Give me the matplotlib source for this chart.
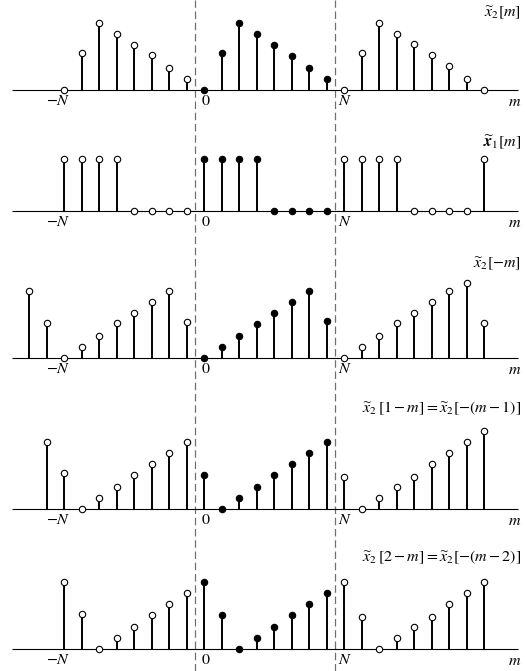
import matplotlib
matplotlib.use("Agg")
import matplotlib.pyplot as plt
from matplotlib.lines import Line2D
from matplotlib.transforms import blended_transform_factory
import numpy as np

plt.rcParams['mathtext.fontset'] = 'stix'
plt.rcParams['font.family'] = ['Liberation Serif', 'DejaVu Serif']

# ---- data, N = 8 ----
N = 8
m1 = list(range(-8, 17))
x2_m = [0, 3.3, 6, 5, 4, 3.1, 2, 1,
        0, 3.3, 6, 5, 4, 3, 2, 1,
        0, 3.3, 6, 5, 4.1, 3.1, 2.1, 1, 0]

m2 = list(range(-8, 17))
x1_m = [4.6, 4.6, 4.6, 4.6, 0, 0, 0, 0,
        4.6, 4.6, 4.6, 4.6, 0, 0, 0, 0,
        4.6, 4.6, 4.6, 4.6, 0, 0, 0, 0, 4.6]

m3 = list(range(-10, 17))
x2_neg_m = [6, 3.1, 0, 1, 2, 3.1, 4, 5, 6, 3.2,
            0, 1, 2, 3, 4, 5, 6, 3.3,
            0, 1, 2, 3.1, 4, 5, 6, 6.7, 3.1]

m4 = list(range(-9, 17))
x2_1_m = [6, 3.2, 0, 1, 2, 3, 4, 5, 6,
          3, 0, 1, 2, 3, 4, 5, 6,
          2.9, 0, 1, 2, 2.9, 4, 5, 6, 7]

m5 = list(range(-8, 17))
x2_2_m = [6, 3.1, 0, 1, 2, 3, 4, 5,
          6, 3, 0, 1, 2, 3, 4, 5,
          6, 2.9, 0, 1, 2, 2.9, 4, 5, 6]

labels = [r'$\widetilde{x}_2[m]$',
          r'$\widetilde{\mathbfit{x}}_1[m]$',
          r'$\widetilde{x}_2[-m]$',
          r'$\widetilde{x}_2\,[1-m] = \widetilde{x}_2[-(m-1)]$',
          r'$\widetilde{x}_2\,[2-m] = \widetilde{x}_2[-(m-2)]$']

panels = [(m1, x2_m), (m2, x1_m), (m3, x2_neg_m), (m4, x2_1_m), (m5, x2_2_m)]

# ---- layout (pixels) ----
W, H = 525, 671
fig = plt.figure(figsize=(W / 100, H / 100), dpi=100)
unit = 11.2          # px per value unit
step = 17.5          # px per sample
x0px = 204           # pixel of m = 0
baselines = [90, 211, 358, 509, 649]
label_y = [13, 143, 264, 408, 557]
ylo, yhi = -2.0, 9.8

xmin = -x0px / step
xmax = (W - x0px) / step

axes = []
for (m, v), base, lab, ly in zip(panels, baselines, labels, label_y):
    bottom_px = base + (-ylo) * unit
    h_px = (yhi - ylo) * unit
    ax = fig.add_axes([0, 1 - bottom_px / H, 1, h_px / H])
    ax.set_xlim(xmin, xmax)
    ax.set_ylim(ylo, yhi)
    ax.axis('off')
    ax.patch.set_alpha(0)
    m = np.array(m)
    v = np.array(v, dtype=float)
    ax.vlines(m, 0, v, colors='black', lw=1.4, zorder=2, clip_on=False)
    ax.hlines(0, -11, 17.95, colors='black', lw=0.8, zorder=1)
    inside = (m >= 0) & (m <= N - 1)
    ax.plot(m[~inside], v[~inside], 'o', ms=4.6, mfc='white', mec='black',
            mew=0.8, zorder=3, clip_on=False)
    ax.plot(m[inside], v[inside], 'o', ms=4.6, mfc='black', mec='black',
            mew=0.8, zorder=3, clip_on=False)
    fs = 11.5
    ax.text(-7.65, -0.3, r'$-N$', ha='right', va='top', fontsize=fs)
    ax.text(-0.15, -0.25, r'$0$', ha='left', va='top', fontsize=fs)
    ax.text(7.65, -0.25, r'$N$', ha='left', va='top', fontsize=fs)
    ax.text(0.993, -0.4, r'$m$', ha='right', va='top', fontsize=fs,
            transform=blended_transform_factory(ax.transAxes, ax.transData))
    ax.text(0.993, (base - ly) / unit, lab, ha='right', va='center', fontsize=fs,
            transform=blended_transform_factory(ax.transAxes, ax.transData))
    axes.append(ax)

tr = blended_transform_factory(axes[0].transData, fig.transFigure)
for xv in (-0.5, N - 0.5):
    fig.add_artist(Line2D([xv, xv], [0, 1], transform=tr, color='#707070',
                          lw=0.9, dashes=(6, 3), zorder=0))

fig.savefig('out.png', dpi=100)
